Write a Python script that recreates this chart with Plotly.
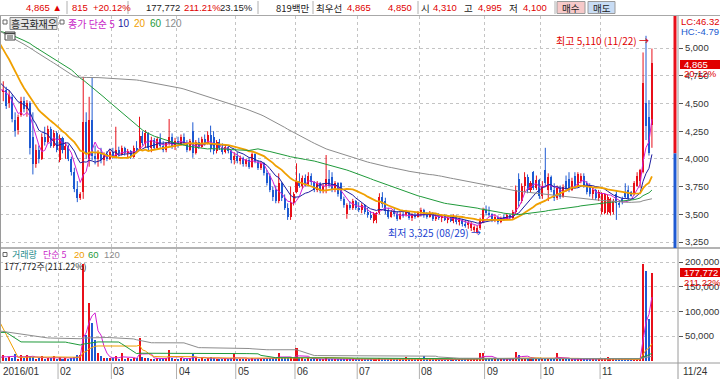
import numpy as np
import plotly.graph_objects as go

# ---------------- data ----------------
stock_name = "흥국화재우"
month_labels = ["2016/01", "02", "03", "04", "05", "06", "07", "08", "09", "10", "11"]
month_days = [20, 18, 22, 20, 20, 21, 21, 22, 19, 20, 18]
end_label = "11/24"

# closes / volumes of the 120 sessions before the chart (only used for moving averages)
prev_close = [6180, 6220, 6150, 6200, 6250, 6170, 6120, 6160, 6210, 6190, 6140, 6180, 6230, 6200, 6150,
              6120, 6170, 6210, 6180, 6130, 6160, 6200, 6150, 6100, 6080, 5900,
              4400, 4200, 4100, 4150, 4200, 4120, 4080, 4150, 4180, 4220, 4170, 4130, 4190, 4210, 4160,
              4120, 4180, 4230, 4260,
              4550, 4650, 4700, 4720, 4680, 4750, 4700, 4660, 4720, 4780, 4740, 4690, 4710, 4760, 4800, 4850,
              4950, 5000, 5080, 5120, 5100, 5060, 5130, 5150, 5090, 5110, 5140, 5080, 5120, 5160, 5100,
              5070, 5130, 5150, 5110, 5090, 5140, 5120, 5080, 5130, 5160, 5200, 5250,
              5300, 5350, 5420, 5400, 5380, 5450, 5420, 5390, 5430, 5460, 5410, 5440,
              5480, 5450, 5500, 5470, 5430, 5460, 5420, 5400, 5380, 5300,
              5000, 4850, 4780, 4720, 4700,
              4680, 4640, 4620, 4660, 4640]
prev_volume = [128000, 119000, 131000, 122000, 126000, 118000, 133000, 124000, 121000, 129000, 127000, 120000, 125000, 130000, 123000,
               26000, 24000, 27000, 22000, 25000, 28000, 23000, 26000, 24000, 25000, 27000, 22000, 26000, 24000, 25000,
               23000, 27000, 25000, 24000, 26000, 22000, 25000, 28000, 24000, 26000, 23000, 25000, 27000, 24000, 25000,
               195000, 210000, 205000, 190000, 200000, 198000,
               8000, 7000, 9000, 8000, 8000, 7000, 9000, 8000, 8000, 9000, 7000, 8000,
               240000, 250000, 235000, 245000, 230000,
               8000, 9000, 7000, 8000, 8000, 9000, 7000, 8000, 8000, 9000, 8000, 7000, 8000, 9000, 8000,
               80000, 85000, 75000, 82000, 78000, 80000,
               8000, 7000, 9000, 8000, 8000, 9000, 7000, 8000, 8000, 9000, 8000, 7000,
               235000, 245000, 240000, 238000, 242000, 240000,
               6000, 7000, 5000, 6000, 6000, 7000, 5000, 6000, 6000, 5000, 7000, 6000, 6000]

opens = [4740, 4600, 4620, 4500, 4560, 4350, 4260, 4400, 4520, 4450, 4500, 4200, 3950, 4080, 4000, 4200, 4150, 4270, 4120, 4230,
         3990, 4190, 4080, 4120, 4000, 3880, 3730, 3650, 3700, 4330, 4000, 4350, 4030, 4000, 4060, 3990, 4040, 4000,
         4060, 4020, 4080, 4040, 4100, 4050, 4070, 4020, 4100, 4080, 4210, 4140, 4230, 4100, 4170, 4100, 4180, 4120, 4080, 4140, 4200, 4110,
         4160, 4130, 4200, 4140, 4080, 4250, 4050, 4150, 4110, 4180, 4140, 4220, 4200, 4070, 4150, 4100, 4060, 4110, 4070, 3990,
         4030, 3980, 4010, 3950, 3990, 3930, 4040, 3970, 3920, 3960, 3870, 3850, 3720, 3720, 3620, 3780, 3650, 3560, 3480, 3600,
         3700, 3800, 3760, 3830, 3770, 3850, 3790, 3720, 3780, 3710, 3760, 3820, 3840, 3720, 3780, 3780, 3640, 3500, 3580, 3560, 3620,
         3560, 3540, 3580, 3520, 3490, 3440, 3450, 3510, 3660, 3620, 3530, 3480, 3520, 3500, 3460, 3500, 3490, 3520, 3470, 3490, 3480,
         3510, 3540, 3490, 3480, 3510, 3460, 3480, 3470, 3490, 3450, 3470, 3440, 3480, 3430, 3450, 3410, 3400, 3380, 3360, 3340, 3380, 3430,
         3540, 3510, 3500, 3450, 3480, 3430, 3470, 3460, 3490, 3470, 3520, 3820, 3620, 3760, 3840, 3720, 3880, 3740, 3810,
         3670, 3900, 3720, 3840, 3720, 3650, 3740, 3660, 3800, 3820, 3720, 3850, 3760, 3800, 3850, 3780, 3760, 3680, 3720, 3650,
         3520, 3510, 3520, 3510, 3520, 3680, 3600, 3640, 3700, 3720, 3700, 3680, 3760, 3800, 3880, 4500, 4380, 4310]
highs = [4760, 4700, 4650, 4620, 4580, 4420, 4400, 4560, 4560, 4530, 4520, 4420, 4130, 4120, 4230, 4290, 4300, 4290, 4260, 4250,
         4220, 4200, 4150, 4130, 4020, 3920, 3800, 3700, 4740, 4420, 4560, 4730, 4120, 4080, 4100, 4060, 4070, 4090,
         4100, 4290, 4110, 4120, 4110, 4090, 4080, 4120, 4160, 4380, 4250, 4260, 4240, 4200, 4190, 4200, 4230, 4160, 4150, 4360, 4230, 4190,
         4200, 4220, 4230, 4170, 4180, 4330, 4170, 4190, 4200, 4220, 4250, 4300, 4250, 4170, 4180, 4140, 4130, 4120, 4080, 4060,
         4060, 4030, 4020, 4000, 4010, 4060, 4050, 3990, 3980, 3970, 3900, 3870, 3750, 3760, 3870, 3790, 3680, 3600, 3750, 3700,
         3960, 3870, 3850, 3860, 3880, 3870, 3800, 3800, 3790, 3780, 4035, 3900, 3880, 3800, 3790, 3790, 3660, 3600, 3620, 3640, 3630,
         3610, 3600, 3590, 3560, 3530, 3520, 3520, 3690, 3700, 3650, 3560, 3540, 3560, 3530, 3520, 3530, 3540, 3530, 3510, 3520, 3530,
         3560, 3550, 3520, 3530, 3520, 3500, 3510, 3500, 3500, 3480, 3490, 3500, 3490, 3470, 3460, 3450, 3440, 3430, 3400, 3400, 3470, 3560,
         3580, 3570, 3510, 3500, 3490, 3480, 3500, 3510, 3500, 3540, 3760, 3870, 3780, 3880, 3860, 3800, 3890, 3850, 3820,
         3800, 4100, 3870, 3850, 3780, 3760, 3760, 3770, 3850, 3880, 3830, 3880, 3880, 3870, 3870, 3800, 3780, 3740, 3730, 3720,
         3700, 3690, 3680, 3650, 3640, 3720, 3620, 3660, 3780, 3760, 3710, 3800, 3880, 3910, 4960, 5110, 4530, 4995]
lows = [4530, 4520, 4450, 4460, 4330, 4200, 4220, 4380, 4420, 4380, 4040, 3860, 3920, 3960, 3990, 4120, 4140, 4100, 4100, 4060,
        3970, 4050, 4000, 3980, 3850, 3700, 3610, 3630, 3640, 4000, 3930, 3990, 3950, 3930, 3960, 3940, 3980, 3990,
        4000, 4010, 4020, 4030, 4030, 4010, 4000, 4010, 4060, 4070, 4120, 4100, 4080, 4060, 4080, 4090, 4100, 4060, 4060, 4120, 4090, 4080,
        4100, 4120, 4120, 4060, 4070, 4010, 4040, 4090, 4100, 4120, 4130, 4060, 4040, 4050, 4080, 4040, 4050, 4050, 3960, 3950,
        3960, 3950, 3930, 3930, 3910, 3920, 3960, 3900, 3900, 3850, 3760, 3700, 3620, 3600, 3600, 3620, 3540, 3450, 3450, 3580,
        3690, 3740, 3730, 3750, 3760, 3760, 3700, 3700, 3690, 3690, 3690, 3740, 3700, 3700, 3660, 3620, 3560, 3460, 3540, 3540, 3540,
        3520, 3510, 3500, 3470, 3450, 3420, 3420, 3500, 3560, 3500, 3460, 3470, 3480, 3440, 3450, 3470, 3480, 3450, 3440, 3460, 3470,
        3480, 3470, 3460, 3470, 3440, 3440, 3450, 3430, 3440, 3420, 3430, 3420, 3410, 3400, 3390, 3380, 3370, 3350, 3340, 3325, 3360, 3420,
        3490, 3480, 3430, 3430, 3410, 3420, 3440, 3450, 3450, 3460, 3500, 3570, 3600, 3700, 3690, 3700, 3720, 3720, 3640,
        3640, 3750, 3620, 3700, 3620, 3630, 3640, 3650, 3720, 3700, 3710, 3730, 3750, 3780, 3740, 3680, 3660, 3640, 3630, 3620,
        3500, 3500, 3500, 3490, 3500, 3450, 3560, 3590, 3640, 3630, 3660, 3670, 3750, 3740, 3870, 4170, 4030, 4100]
closes = [4560, 4620, 4480, 4580, 4360, 4250, 4380, 4520, 4450, 4500, 4100, 3950, 4080, 4000, 4200, 4150, 4270, 4120, 4230, 4080,
          4190, 4080, 4120, 4000, 3880, 3730, 3650, 3680, 4330, 4050, 4350, 4030, 4000, 4060, 3990, 4040, 4000, 4060,
          4020, 4080, 4040, 4100, 4050, 4070, 4020, 4100, 4080, 4210, 4140, 4230, 4100, 4170, 4100, 4180, 4120, 4080, 4140, 4200, 4110, 4160,
          4130, 4200, 4140, 4080, 4160, 4050, 4150, 4110, 4180, 4140, 4220, 4090, 4070, 4150, 4100, 4060, 4110, 4070, 3990, 4030,
          3980, 4010, 3950, 3990, 3930, 4040, 3970, 3920, 3960, 3870, 3780, 3720, 3660, 3620, 3780, 3650, 3560, 3480, 3600, 3680,
          3800, 3760, 3830, 3770, 3850, 3790, 3720, 3780, 3710, 3760, 3820, 3760, 3720, 3780, 3680, 3640, 3580, 3580, 3560, 3620, 3560,
          3540, 3580, 3520, 3490, 3470, 3500, 3510, 3660, 3590, 3530, 3480, 3520, 3500, 3460, 3500, 3490, 3520, 3470, 3490, 3480, 3510,
          3540, 3490, 3480, 3510, 3460, 3480, 3470, 3490, 3450, 3470, 3440, 3480, 3430, 3450, 3410, 3400, 3420, 3410, 3390, 3380, 3450, 3540,
          3510, 3500, 3450, 3480, 3430, 3470, 3460, 3490, 3470, 3520, 3720, 3620, 3760, 3840, 3720, 3780, 3740, 3810, 3670,
          3760, 3780, 3840, 3720, 3650, 3740, 3660, 3750, 3740, 3720, 3800, 3760, 3860, 3850, 3760, 3700, 3680, 3720, 3650, 3700,
          3690, 3680, 3660, 3640, 3620, 3600, 3580, 3610, 3660, 3650, 3670, 3780, 3850, 3900, 4680, 4300, 4050, 4865]
volumes = [9000, 12000, 6000, 8000, 5000, 14000, 4000, 11000, 5000, 12000, 9000, 8000, 4000, 5000, 10000, 4000, 6000, 5000, 9000, 4000,
           8000, 4000, 5000, 4000, 6000, 8000, 12000, 12000, 197000, 53000, 117000, 76000, 42000, 15000, 9000, 6000, 5000, 5000,
           5000, 10000, 4000, 15000, 4000, 5000, 3000, 6000, 5000, 46000, 8000, 6000, 5000, 4000, 4000, 5000, 4000, 3000, 5000, 21000, 5000, 4000,
           4000, 5000, 4000, 3000, 5000, 14000, 6000, 4000, 5000, 4000, 6000, 8000, 6000, 4000, 3000, 3000, 4000, 3000, 5000, 13000,
           4000, 3000, 4000, 3000, 3000, 5000, 3000, 3000, 4000, 5000, 6000, 5000, 6000, 5000, 15000, 5000, 5000, 6000, 7000, 5000,
           25000, 6000, 5000, 4000, 5000, 4000, 3000, 3000, 3000, 3000, 6000, 4000, 4000, 3000, 3000, 3000, 3000, 4000, 3000, 3000, 3000,
           3000, 3000, 3000, 3000, 3000, 3000, 4000, 5000, 4000, 3000, 3000, 3000, 2000, 3000, 2000, 2000, 8000, 2000, 2000, 2000, 3000,
           3000, 9000, 2000, 2000, 3000, 2000, 2000, 2000, 3000, 2000, 2000, 2000, 2000, 3000, 2000, 2000, 2000, 3000, 4000, 5000, 15000, 15000,
           5000, 6000, 3000, 3000, 3000, 3000, 3000, 3000, 3000, 4000, 17000, 12000, 6000, 6000, 5000, 4000, 5000, 4000, 4000,
           5000, 6000, 6000, 4000, 3000, 15000, 3000, 3000, 3000, 3000, 3000, 3000, 3000, 2000, 2000, 3000, 2000, 2000, 2000, 2000,
           3000, 3000, 7000, 3000, 3000, 3000, 2000, 2000, 3000, 2000, 2000, 3000, 3000, 4000, 197000, 182000, 84166, 177772]

price_ma_periods = [5, 10, 20, 60, 120]
price_ma_colors = ["#d21ed2", "#1c1ca0", "#f0a000", "#1f9a3a", "#8c8c8c"]
vol_ma_periods = [5, 20, 60, 120]
vol_ma_colors = ["#d21ed2", "#f0a000", "#1f9a3a", "#8c8c8c"]
price_ticks = [3250, 3500, 3750, 4000, 4250, 4500, 4750, 5000]
vol_ticks = [50000, 100000, 150000, 200000]

header_items = [  # text, anchor x px, anchor side, colour
    ("4,865 ▲", 63, "right", "#e00000"), ("815", 89, "right", "#e00000"), ("+20.12%", 92, "left", "#e00000"),
    ("177,772", 181, "right", "#222"), ("211.21%", 222, "right", "#e00000"), ("23.15%", 254, "right", "#222"),
    ("819백만", 311, "right", "#222"), ("최우선", 315, "left", "#222"), ("4,865", 372, "right", "#e00000"),
    ("4,850", 413, "right", "#e00000"),
    ("시", 420, "left", "#222"), ("4,310", 458, "right", "#e00000"), ("고", 463, "left", "#222"),
    ("4,995", 503, "right", "#e00000"), ("저", 508, "left", "#222"), ("4,100", 548, "right", "#e00000"),
]

# ---------------- derived ----------------
n = len(closes)
assert len(opens) == n and len(highs) == n and len(lows) == n and len(volumes) == n
assert len(prev_close) == 120 and len(prev_volume) == 120
idx = np.arange(n)
o, h, l, c, v = map(np.array, (opens, highs, lows, closes, volumes))
up = c >= o
all_c = np.array(prev_close + closes, dtype=float)
all_v = np.array(prev_volume + volumes, dtype=float)
P = len(prev_close)

def ma(arr, k):
    return np.array([arr[P + i - k + 1:P + i + 1].mean() for i in range(n)])

month_start = np.cumsum([0] + month_days[:-1])

W, H = 720, 379
FONT = "Liberation Sans, Noto Sans CJK KR, sans-serif"
KFONT = "Noto Sans CJK KR, Liberation Sans, sans-serif"

def px_(x):
    return x / W

def py_(y):
    return 1 - y / H

XR = [-0.1, 228.8]
PR = [5000 + (48 - 248) * 9.017, 5000 + (48 - 16) * 9.017]
VR = [(360.7 - 363) * 2027, (360.7 - 249) * 2027]

RED, BLUE = "#e8101a", "#1e5ad2"
fig = go.Figure()

for mask, col in ((up, RED), (~up, BLUE)):
    xs, ys = [], []
    for i in idx[mask]:
        xs += [i, i, None]
        ys += [l[i], h[i], None]
    fig.add_trace(go.Scatter(x=xs, y=ys, mode="lines", line=dict(color=col, width=1),
                             hoverinfo="skip", showlegend=False, xaxis="x", yaxis="y"))
for mask, col in ((up, RED), (~up, BLUE)):
    base = np.minimum(o, c)[mask]
    size = np.maximum(np.abs(c - o)[mask], 6)
    fig.add_trace(go.Bar(x=idx[mask], y=size, base=base, width=0.68, marker=dict(color=col, line=dict(width=0)),
                         showlegend=False, xaxis="x", yaxis="y"))
for k, col in zip(price_ma_periods, price_ma_colors):
    fig.add_trace(go.Scatter(x=idx, y=ma(all_c, k), mode="lines",
                             line=dict(color=col, width=1.8 if k == 20 else 1),
                             hoverinfo="skip", showlegend=False, xaxis="x", yaxis="y"))

for mask, col in ((up, RED), (~up, BLUE)):
    fig.add_trace(go.Bar(x=idx[mask], y=v[mask], width=0.68, marker=dict(color=col, line=dict(width=0)),
                         showlegend=False, xaxis="x2", yaxis="y2"))
for k, col in zip(vol_ma_periods, vol_ma_colors):
    fig.add_trace(go.Scatter(x=idx, y=ma(all_v, k), mode="lines", line=dict(color=col, width=1),
                             hoverinfo="skip", showlegend=False, xaxis="x2", yaxis="y2"))

grid = dict(showgrid=True, gridcolor="#c4c4c4", griddash="dot", gridwidth=1)
xgrid_vals = [s - 0.5 for s in month_start[1:]]
axfont = dict(family=FONT, size=9.5, color="#333")

fig.update_layout(
    width=W, height=H, margin=dict(l=0, r=0, t=0, b=0, pad=0),
    paper_bgcolor="white", plot_bgcolor="white", barmode="overlay", bargap=0,
    showlegend=False,
    xaxis=dict(domain=[0, 678 / W], range=XR, tickvals=xgrid_vals, showticklabels=False, ticks="",
               zeroline=False, anchor="y", **grid),
    xaxis2=dict(domain=[0, 678 / W], range=XR, tickvals=xgrid_vals, showticklabels=False, ticks="",
                zeroline=False, anchor="y2", matches="x", **grid),
    yaxis=dict(domain=[py_(248), py_(16)], range=PR, side="right", anchor="x", tickvals=price_ticks,
               tickformat=",d", ticks="outside", ticklen=4, tickcolor="#555", tickfont=axfont,
               zeroline=False, automargin=False, **grid),
    yaxis2=dict(domain=[py_(363), py_(249)], range=VR, side="right", anchor="x2", tickvals=vol_ticks,
                tickformat=",d", ticks="outside", ticklen=4, tickcolor="#555", tickfont=axfont,
                zeroline=False, automargin=False, **grid),
)

shapes = []
ann = []

def line(x0, y0, x1, y1, col="#9a9a9a", w=1):
    shapes.append(dict(type="line", xref="paper", yref="paper", x0=px_(x0), y0=py_(y0), x1=px_(x1), y1=py_(y1),
                       line=dict(color=col, width=w)))

def rect(x0, y0, x1, y1, fill, border=None):
    shapes.append(dict(type="rect", xref="paper", yref="paper", x0=px_(x0), y0=py_(y0), x1=px_(x1), y1=py_(y1),
                       fillcolor=fill, line=dict(color=border or fill, width=1 if border else 0), layer="above"))

def text(x, y, s, col, size=10, anchor="left", family=FONT):
    ann.append(dict(x=px_(x), y=py_(y), xref="paper", yref="paper", text=s, showarrow=False,
                    xanchor=anchor, yanchor="middle", borderpad=0,
                    font=dict(family=family, size=size, color=col)))

# header bar
rect(0, 0, 720, 15, "#ffffff")
for xs in (67, 128, 258, 313, 418, 555):
    line(xs, 1, xs, 14, "#b0b0b0")
line(0, 15.5, 720, 15.5, "#a8a8a8")
for s, x, anc, col in header_items:
    fam = KFONT if any(ord(ch) > 0x3000 for ch in s) else FONT
    text(x, 7.5, s, col, 9.5, anc, fam)
rect(557, 1.5, 585, 13.5, "#f6c9c9", "#9a9a9a")
rect(588, 1.5, 615, 13.5, "#c8dcf4", "#9a9a9a")
text(571, 7.5, "매수", "#222", 9.5, "center", KFONT)
text(601.5, 7.5, "매도", "#222", 9.5, "center", KFONT)

# panel borders
line(0, 248, 720, 248, "#9a9a9a", 1.5)
line(0, 363, 720, 363, "#9a9a9a", 1)
line(678, 16, 678, 379, "#9a9a9a", 1)
line(0.5, 16, 0.5, 363, "#9a9a9a", 1)

# month labels
for s, lab in zip(month_start, month_labels):
    xpix = 0.28 + 2.962 * (s - 0.5)
    if s > 0:
        line(xpix, 363, xpix, 379, "#b0b0b0")
    text(max(xpix, 1) + 1, 371, lab, "#333", 10)
text(682, 371, end_label, "#333", 10)

# price legend
rect(3, 20, 7, 24, "#ffffff", "#666")
rect(10, 17.5, 57, 29.5, "#e4e4e4", "#888")
text(33.5, 23.5, stock_name, "#222", 10, "center", KFONT)
rect(60, 20, 64, 24, "#ffffff", "#666")
text(67, 23.5, "종가 단순 5", "#c81ec8", 10, family=KFONT)
text(117, 23.5, "10", "#1c1ca0", 10)
text(133, 23.5, "20", "#f0a000", 10)
text(149, 23.5, "60", "#1f9a3a", 10)
text(164, 23.5, "120", "#8c8c8c", 10)
# small chart icon
rect(5, 32, 15, 40, "#ffffff", "#444")
line(5, 33.5, 15, 33.5, "#444", 1.5)
for xx in (8, 10, 12):
    line(xx, 35, xx, 39, "#444", 1)

# volume legend
rect(3, 252.5, 7, 256.5, "#ffffff", "#666")
text(11, 254.5, "거래량", "#228a8a", 9, family=KFONT)
text(42, 254.5, "단순 5", "#c81ec8", 9, family=KFONT)
text(73, 254.5, "20", "#f0a000", 9.5)
text(87, 254.5, "60", "#1f9a3a", 9.5)
text(103, 254.5, "120", "#8c8c8c", 9.5)
last_v = volumes[-1]
pct_v = last_v / volumes[-2] * 100
text(3, 266.5, f"{last_v:,}주({pct_v:.2f}%)", "#222", 9, family=KFONT)

# high / low markers
hi_i = int(np.argmax(h))
lo_i = int(np.argmin(l))
text(555, 41, f"최고 {h[hi_i]:,} (11/22) →", "#e00000", 10, family=KFONT)
text(387, 232, f"최저 {l[lo_i]:,} (08/29) →", "#1a3fd0", 10, family=KFONT)

# right side indicators
prev_c = closes[-2]
shapes.append(dict(type="rect", xref="paper", yref="y", x0=px_(673.5), x1=px_(676.5), y0=prev_c, y1=PR[1],
                   fillcolor=RED, line=dict(width=0)))
shapes.append(dict(type="rect", xref="paper", yref="y", x0=px_(673.5), x1=px_(676.5), y0=PR[0], y1=prev_c,
                   fillcolor=BLUE, line=dict(width=0)))
lc = (closes[-1] / l.min() - 1) * 100
hc = (closes[-1] / h.max() - 1) * 100
text(680, 21, f"LC:{lc:.2f}", "#e00000", 9.5)
text(680, 31, f"HC:{hc:.2f}", "#1a5ad0", 9.5)
chg = (closes[-1] / prev_c - 1) * 100
rect(680, 60, 720, 69, "#e00000")
text(683, 64.5, f"{closes[-1]:,}", "#ffffff", 9.5)
text(683, 74, f"{chg:.2f}%", "#e00000", 9.5)
rect(680, 268, 720, 277, "#e00000")
text(683, 272.5, f"{last_v:,}", "#ffffff", 9.5)
text(683, 282, f"{pct_v:.2f}%", "#e00000", 9.5)

fig.update_layout(shapes=shapes, annotations=ann)
fig.write_html("out.html", config={"displayModeBar": False},
               post_script="document.body.style.margin='0';document.body.style.overflow='hidden';")
